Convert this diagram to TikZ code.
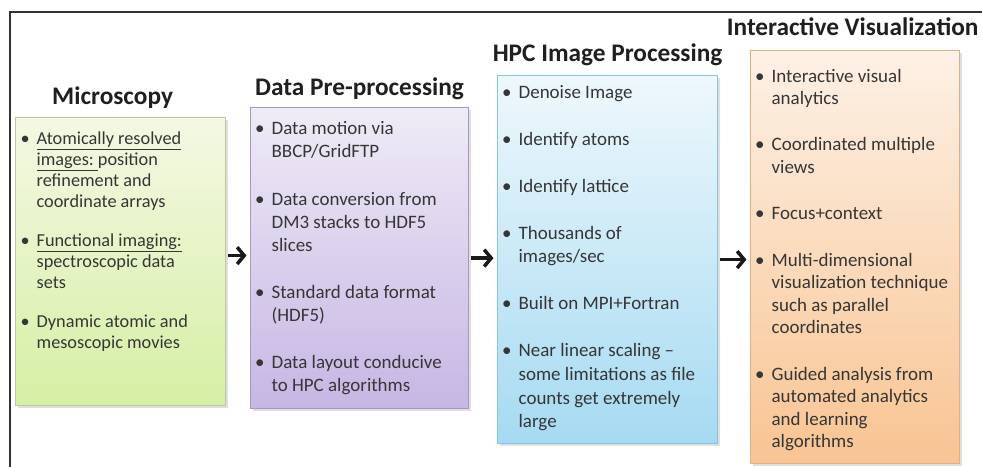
\documentclass[tikz,border=0pt]{standalone}
\usepackage{fontspec}
\setmainfont{Carlito}
\usepackage{enumitem}
\usetikzlibrary{arrows.meta, positioning, shadows}

\definecolor{verdearriba}{HTML}{F4F8E4}
\definecolor{verdeabajo}{HTML}{D6EFA4}
\definecolor{verdeborde}{HTML}{BCC89E}
\definecolor{moradoarriba}{HTML}{EFEBF6}
\definecolor{moradoabajo}{HTML}{C6B6E4}
\definecolor{moradoborde}{HTML}{A696C2}
\definecolor{azularriba}{HTML}{EEF8FC}
\definecolor{azulabajo}{HTML}{A6DAF2}
\definecolor{azulborde}{HTML}{88C2DC}
\definecolor{naranjaarriba}{HTML}{FDF1E6}
\definecolor{naranjaabajo}{HTML}{F8C492}
\definecolor{naranjaborde}{HTML}{DEB088}
\definecolor{textogris}{HTML}{363636}

\setlist[itemize]{label=\textbullet, leftmargin=13pt, labelsep=5pt, topsep=0pt, partopsep=0pt, parsep=0pt}

\tikzstyle{etapa} = [draw, rectangle, anchor=north west, inner xsep=2pt, inner ysep=6pt, line width=0.8pt, text=textogris, drop shadow={shadow xshift=1.5pt, shadow yshift=-1.5pt, opacity=0.25}]
\tikzstyle{titulo} = [font=\fontsize{18}{20}\selectfont\bfseries, text=black!88, inner sep=1pt]
\tikzstyle{flecha} = [-{Straight Barb[length=5pt,width=12pt]}, line width=2.5pt, black!90, shorten <=1.5pt, shorten >=2.5pt]

\begin{document}
\begin{tikzpicture}
	\useasboundingbox (0,0) rectangle (24.55,-11.675);
	% marco exterior
	\draw[line width=1.1pt, black!80] (0.25,-12) |- (25,-0.3);

	\node [etapa, top color=verdearriba, bottom color=verdeabajo, draw=verdeborde] (micro) at (0.375,-2.925){%
		\begin{minipage}[c][6.78cm][t]{5.11cm}
			\fontsize{13}{15}\selectfont
			\vspace*{4pt}
			\begin{itemize}[itemsep=12.5pt]
				\item \underline{Atomically resolved}\\ \underline{images:\ }position\\ refinement and\\ coordinate arrays
				\item \underline{Functional imaging:}\\ spectroscopic data\\ sets
				\item Dynamic atomic and\\ mesoscopic movies
			\end{itemize}
		\end{minipage}};
	\node [etapa, top color=moradoarriba, bottom color=moradoabajo, draw=moradoborde] (prep) at (6.25,-2.675){%
		\begin{minipage}[c][7.105cm][t]{5.31cm}
			\fontsize{13.5}{16.3}\selectfont
			\vspace*{4pt}
			\begin{itemize}[itemsep=17.5pt]
				\item Data motion via\\ BBCP/GridFTP
				\item Data conversion from\\ DM3 stacks to HDF5\\ slices
				\item Standard data format\\ (HDF5)
				\item Data layout conducive\\ to HPC algorithms
			\end{itemize}
		\end{minipage}};
	\node [etapa, top color=azularriba, bottom color=azulabajo, draw=azulborde] (hpc) at (12.425,-1.875){%
		\begin{minipage}[c][8.78cm][t]{5.36cm}
			\fontsize{13.5}{16.8}\selectfont
			\vspace*{1pt}
			\begin{itemize}[itemsep=16.6pt]
				\item Denoise Image
				\item Identify atoms
				\item Identify lattice
				\item Thousands of\\ images/sec
				\item Built on MPI+Fortran
				\item Near linear scaling --\\ some limitations as file\\ counts get extremely\\ large
			\end{itemize}
		\end{minipage}};
	\node [etapa, top color=naranjaarriba, bottom color=naranjaabajo, draw=naranjaborde] (vis) at (18.75,-1.25){%
		\begin{minipage}[c][9.905cm][t]{5.085cm}
			\fontsize{13.5}{16}\selectfont
			\vspace*{7pt}
			\begin{itemize}[itemsep=17pt]
				\item Interactive visual\\ analytics
				\item Coordinated multiple\\ views
				\item Focus+context
				\item Multi-dimensional\\ visualization technique\\ such as parallel\\ coordinates
				\item Guided analysis from\\ automated analytics\\ and learning\\ algorithms
			\end{itemize}
		\end{minipage}};

	\node[titulo, above=5pt of micro, xshift=-0.2cm] (tmicro) {Microscopy};
	\node[titulo, above=4pt of prep] (tprep) {Data Pre-processing};
	\node[titulo, above=5pt of hpc] (thpc) {HPC Image Processing};
	\node[titulo, above=9pt of vis, xshift=-0.06cm] (tvis) {Interactive Visualization};

	\draw[flecha] ([yshift=0.15cm]micro.east) -- ([yshift=0.15cm]micro.east -| prep.west);
	\draw[flecha] (prep.east) -- (prep.east -| hpc.west);
	\draw[flecha] (hpc.east) -- (hpc.east -| vis.west);
\end{tikzpicture}
\end{document}
